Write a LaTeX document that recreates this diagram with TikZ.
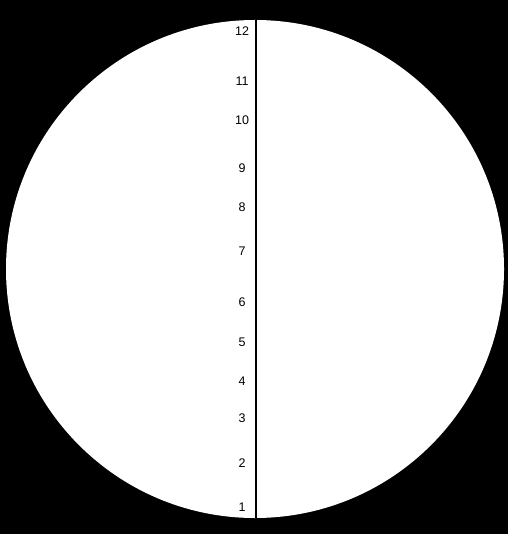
\documentclass[tikz,border=0pt]{standalone}
\usepackage{fontspec}
\setmainfont{Liberation Sans}
\usetikzlibrary{positioning}
\tikzset{
  hour/.style={font=\fontsize{12.5}{14}\selectfont, inner sep=0pt, anchor=center},
  axis/.style={line width=1.2pt, draw=black}
}
\begin{document}
\begin{tikzpicture}[x=1pt, y=-1pt]
    % --- Fondo ---
    \fill[black] (0,0) rectangle (508,534);
    \useasboundingbox (0,0) rectangle (508,534);
    \fill[white] (255,269) circle (249);

    % --- Eje ---
    \coordinate (top) at (256,20);
    \coordinate (bottom) at (256,518);
    \draw[axis] (top) -- (bottom);

    % --- Horas ---
    \foreach \n/\y in {12/31, 11/81, 10/120, 9/168, 8/207, 7/251, 6/302, 5/342, 4/381, 3/418, 2/463, 1/507}
        \node[hour] (h\n) at (242,\y) {\n};
\end{tikzpicture}
\end{document}
